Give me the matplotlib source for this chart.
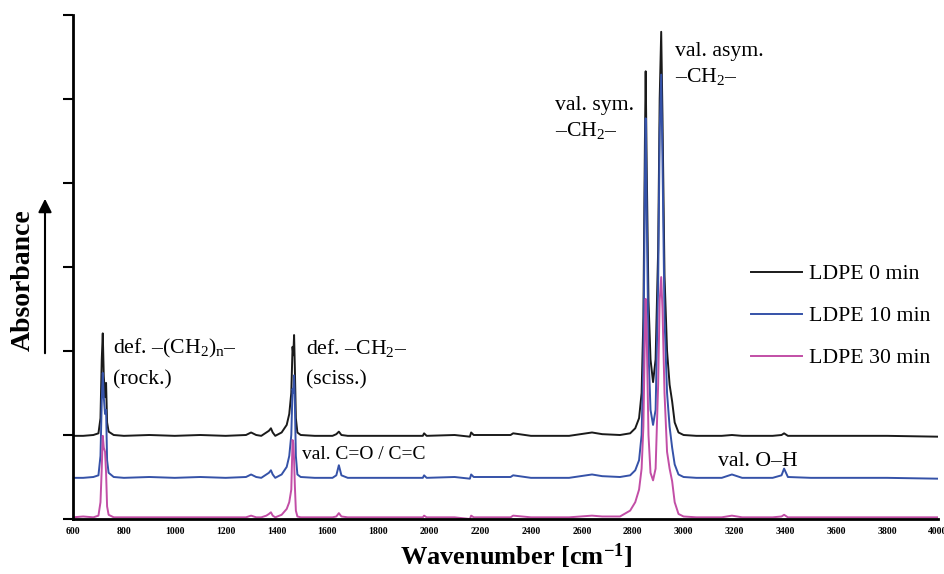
import numpy as np
import matplotlib
matplotlib.use("Agg")
from matplotlib import pyplot as plt

plt.rcParams['font.family'] = ['Liberation Serif', 'DejaVu Serif']
plt.rcParams['mathtext.fontset'] = 'custom'
plt.rcParams['mathtext.rm'] = 'Liberation Serif'
plt.rcParams['mathtext.it'] = 'Liberation Serif:italic'
plt.rcParams['mathtext.bf'] = 'Liberation Serif:bold'

# wavenumber grid (cm-1) and absorbance
wavenumber = [600, 640, 680, 700, 708, 713, 717, 721, 726, 730, 734, 740, 760, 800,
              900, 1000, 1100, 1200, 1280, 1300, 1320, 1340, 1360, 1370, 1378, 1385,
              1395, 1420, 1440, 1450, 1458, 1463, 1466, 1469, 1472, 1476, 1482, 1495,
              1550, 1620, 1635, 1645, 1655, 1680, 1800, 1975, 1980, 1990, 2100, 2160,
              2165, 2175, 2300, 2320, 2330, 2400, 2550, 2640, 2680, 2750, 2790, 2810,
              2825, 2835, 2842, 2848, 2851, 2855, 2862, 2870, 2880, 2890, 2900, 2906,
              2912, 2917, 2925, 2935, 2945, 2955, 2965, 2980, 3000, 3050, 3150, 3190,
              3230, 3350, 3385, 3395, 3410, 3500, 3600, 3800, 4000]

ldpe_0 = [0.99, 0.99, 1.00, 1.02, 1.20, 1.90, 2.21, 1.70, 1.45, 1.62, 1.15, 1.04, 1.00, 0.99,
          1.00, 0.99, 1.00, 0.99, 1.00, 1.03, 1.00, 0.99, 1.03, 1.05, 1.08, 1.03,
          0.99, 1.03, 1.12, 1.25, 1.50, 2.05, 1.95, 2.19, 1.80, 1.20, 1.03, 1.00,
          0.99, 0.99, 1.01, 1.04, 1.00, 0.99, 0.99, 0.99, 1.02, 0.99, 1.00, 0.98,
          1.03, 1.00, 1.00, 1.00, 1.02, 0.99, 0.99, 1.03, 1.01, 1.00, 1.02, 1.08,
          1.20, 1.50, 2.40, 4.50, 5.33, 4.20, 2.60, 1.90, 1.63, 1.90, 3.20, 5.00,
          5.80, 4.80, 2.90, 2.00, 1.60, 1.40, 1.15, 1.03, 1.00, 0.99, 0.99, 1.00,
          0.99, 0.99, 1.00, 1.02, 0.99, 0.99, 0.99, 0.99, 0.98]

ldpe_10 = [0.49, 0.49, 0.50, 0.52, 0.75, 1.40, 1.74, 1.45, 1.25, 1.30, 0.70, 0.55, 0.50, 0.49,
           0.50, 0.49, 0.50, 0.49, 0.50, 0.53, 0.50, 0.49, 0.53, 0.55, 0.58, 0.53,
           0.49, 0.53, 0.62, 0.75, 1.00, 1.55, 1.50, 1.71, 1.40, 0.75, 0.53, 0.50,
           0.49, 0.49, 0.52, 0.64, 0.52, 0.49, 0.49, 0.49, 0.52, 0.49, 0.50, 0.48,
           0.53, 0.50, 0.50, 0.50, 0.52, 0.49, 0.49, 0.53, 0.51, 0.50, 0.52, 0.58,
           0.70, 1.00, 1.90, 4.00, 4.77, 3.70, 2.00, 1.30, 1.12, 1.30, 2.80, 4.60,
           5.29, 4.30, 2.40, 1.50, 1.10, 0.85, 0.65, 0.53, 0.50, 0.49, 0.49, 0.53,
           0.49, 0.49, 0.52, 0.60, 0.50, 0.49, 0.49, 0.49, 0.48]

ldpe_30 = [0.02, 0.03, 0.02, 0.04, 0.20, 0.60, 0.99, 0.85, 0.80, 0.55, 0.15, 0.05, 0.02, 0.02,
           0.02, 0.02, 0.02, 0.02, 0.02, 0.04, 0.02, 0.02, 0.04, 0.06, 0.08, 0.04,
           0.02, 0.05, 0.12, 0.20, 0.35, 0.94, 0.90, 0.70, 0.40, 0.10, 0.03, 0.02,
           0.02, 0.02, 0.03, 0.07, 0.03, 0.02, 0.02, 0.02, 0.04, 0.02, 0.02, 0.00,
           0.04, 0.02, 0.02, 0.02, 0.04, 0.02, 0.02, 0.04, 0.03, 0.03, 0.10, 0.20,
           0.35, 0.60, 1.10, 2.20, 2.62, 2.20, 1.00, 0.55, 0.46, 0.60, 1.60, 2.60,
           2.88, 2.50, 1.50, 0.80, 0.60, 0.45, 0.20, 0.06, 0.03, 0.02, 0.02, 0.04,
           0.02, 0.02, 0.03, 0.05, 0.02, 0.02, 0.02, 0.02, 0.02]

series_labels = ["LDPE 0 min", "LDPE 10 min", "LDPE 30 min"]
series_colors = ["#1a1a1a", "#3552a8", "#c24ea6"]
x_ticks = list(range(600, 4001, 200))

fig = plt.figure(figsize=(9.44, 5.74), dpi=100)
ax = fig.add_axes([73/944, 1-519/574, (938-73)/944, (519-15)/574])

for y, lab, col in zip([ldpe_0, ldpe_10, ldpe_30], series_labels, series_colors):
	ax.plot(wavenumber, y, color=col, lw=1.4, label=lab)

ax.set_xlim(600, 4000)
ax.set_ylim(0, 6)
ax.set_xticks(x_ticks)
ax.set_xticklabels([str(t) for t in x_ticks], fontsize=7, fontweight='bold')
ax.set_yticks(range(0, 7))
ax.set_yticklabels([])
ax.tick_params(axis='y', direction='out', length=7, width=1.5)
ax.tick_params(axis='x', length=0, pad=6)
for s in ['top', 'right']:
	ax.spines[s].set_visible(False)
for s in ['left', 'bottom']:
	ax.spines[s].set_linewidth(2)

# band labels
fs = 15.7
ax.text(757, 2.03, r"def. –(CH$_2$)$_\mathrm{n}$–", fontsize=fs, va='center')
ax.text(757, 1.655, "(rock.)", fontsize=fs, va='center')
ax.text(1516, 2.03, r"def. –CH$_2$–", fontsize=fs, va='center')
ax.text(1516, 1.655, "(sciss.)", fontsize=fs, va='center')
ax.text(1500, 0.77, "val. C=O / C=C", fontsize=14, va='center')
ax.text(3135, 0.69, "val. O–H", fontsize=fs, va='center')
ax.text(2495, 4.92, "val. sym.", fontsize=fs, va='center')
ax.text(2495, 4.62, r"–CH$_2$–", fontsize=fs, va='center')
ax.text(2966, 5.57, "val. asym.", fontsize=fs, va='center')
ax.text(2966, 5.27, r"–CH$_2$–", fontsize=fs, va='center')

ax.legend(frameon=False, fontsize=fs, loc='upper left', handlelength=2.35,
          labelspacing=1.0, borderpad=0, handletextpad=0.3,
          bbox_to_anchor=(740/944, 1-253/574), bbox_transform=fig.transFigure)

fig.text(516/944, 1-556/574, r"Wavenumber [cm$^{\mathbf{-1}}$]", fontsize=19,
         fontweight='bold', ha='center', va='center')
fig.text(23/944, 1-280/574, "Absorbance", fontsize=20, fontweight='bold',
         rotation=90, ha='center', va='center')
ax.annotate("", xy=(45/944, 1-196/574), xytext=(45/944, 1-356/574),
            xycoords='figure fraction', textcoords='figure fraction',
            arrowprops=dict(arrowstyle='-|>', color='black', lw=1.5, mutation_scale=20))

plt.savefig("out.png", dpi=100)
plt.close()
